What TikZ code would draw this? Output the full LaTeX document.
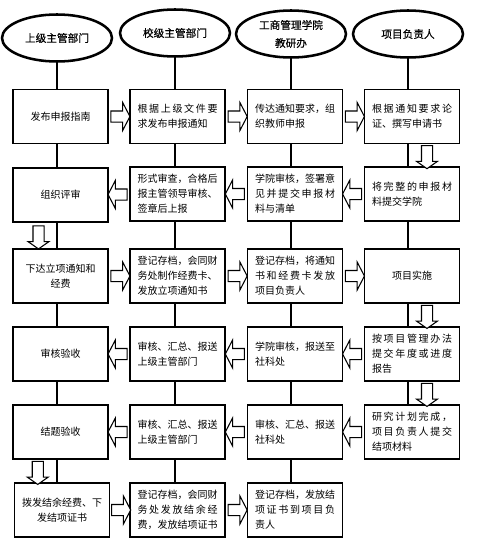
\documentclass[tikz,border=0pt]{standalone}
\usepackage{fontspec}
\setmainfont{Noto Sans CJK SC}
\newfontfamily\headfont[FakeBold=0.5]{Noto Sans CJK SC}
\usetikzlibrary{shapes.geometric,shapes.arrows,calc,backgrounds}
\newcommand\spr[1]{\makebox[60pt][s]{\sprA#1\relax}}
\def\sprA#1{#1\sprB}
\def\sprB#1{\ifx\relax#1\else\hfil#1\expandafter\sprB\fi}
\tikzset{
  x=0.75pt, y=-0.75pt,
  head/.style={ellipse, draw, line width=1.9pt, fill=white, minimum width=82.5pt,
    minimum height=35.25pt, inner sep=0pt, align=center,
    font=\headfont\fontsize{8pt}{13.5pt}\selectfont},
  box/.style={rectangle, draw, line width=0.8pt, fill=white, minimum width=71.25pt,
    minimum height=40.5pt, inner sep=0pt, align=left,
    font=\fontsize{7.5pt}{11.25pt}\selectfont},
  cbox/.style={box, align=center},
  lane/.style={line width=1.5pt},
  harrow/.style={single arrow, draw, fill=white, line width=0.8pt, minimum height=14.25pt,
    inner sep=3.75pt, single arrow head extend=6.4pt, single arrow tip angle=125},
  rarr/.style={harrow},
  larr/.style={harrow, shape border rotate=180},
  darr/.style={single arrow, draw, fill=white, line width=0.8pt, minimum height=17.25pt,
    inner sep=3.75pt, single arrow head extend=3.75pt, single arrow tip angle=110,
    shape border rotate=270},
}
\begin{document}
\begin{tikzpicture}
\useasboundingbox (0,0) rectangle (482,546);
% headers
\node[head] (e1) at (57,38) {上级主管部门};
\node[head] (e2) at (175,33) {校级主管部门};
\node[head] (e3) at (291,34) {工商管理学院\\教研办};
\node[head] (e4) at (408,34) {项目负责人};
% row 1
\node[cbox] (b11) at (60.5,116.5) {发布申报指南};
\node[box] (b12) at (177.5,116.5) {\spr{根据上级文件要}\\求发布申报通知};
\node[box] (b13) at (295,116.5) {\spr{传达通知要求，组}\\织教师申报};
\node[box] (b14) at (412,116.5) {\spr{根据通知要求论}\\证、撰写申请书};
% row 2
\node[cbox] (b21) at (60.5,195) {组织评审};
\node[box] (b22) at (177.5,194) {\spr{形式审查，合格后}\\\spr{报主管领导审核、}\\签章后上报};
\node[box] (b23) at (295,194) {\spr{学院审核，签署意}\\\spr{见并提交申报材}\\料与清单};
\node[box] (b24) at (412,194) {\spr{将完整的申报材}\\料提交学院};
% row 3
\node[cbox] (b31) at (60.5,276) {下达立项通知和\\经费};
\node[box] (b32) at (177.5,276) {\spr{登记存档，会同财}\\\spr{务处制作经费卡、}\\发放立项通知书};
\node[box] (b33) at (295,276) {\spr{登记存档，将通知}\\\spr{书和经费卡发放}\\项目负责人};
\node[cbox] (b34) at (412,276) {项目实施};
% row 4
\node[cbox] (b41) at (60.5,354) {审核验收};
\node[box] (b42) at (177.5,354) {\spr{审核、汇总、报送}\\上级主管部门};
\node[box] (b43) at (295,354) {\spr{学院审核，报送至}\\社科处};
\node[box] (b44) at (412,354) {\spr{按项目管理办法}\\\spr{提交年度或进度}\\报告};
% row 5
\node[cbox] (b51) at (60.5,432) {结题验收};
\node[box] (b52) at (177.5,432) {\spr{审核、汇总、报送}\\上级主管部门};
\node[box] (b53) at (295,432) {\spr{审核、汇总、报送}\\社科处};
\node[box] (b54) at (412,432) {\spr{研究计划完成，}\\\spr{项目负责人提交}\\结项材料};
% row 6
\node[cbox] (b61) at (62,510) {拨发结余经费、下\\发结项证书};
\node[box] (b62) at (177.5,510) {\spr{登记存档，会同财}\\\spr{务处发放结余经}\\费，发放结项证书};
\node[box] (b63) at (295,510) {\spr{登记存档，发放结}\\\spr{项证书到项目负}\\责人};
% lanes
\begin{scope}[on background layer]
\draw[lane] (e1.south) -- (e1.south |- b61.north);
\draw[lane] (e2.south) -- (e2.south |- b62.north);
\draw[lane] (e3.south) -- (e3.south |- b63.north);
\draw[lane] (e4.south) -- (e4.south |- b54.north);
\end{scope}
% horizontal arrows
\node[rarr] (a11) at ($(b11.east)!0.5!(b12.west)$) {};
\node[rarr] (a12) at ($(b12.east)!0.5!(b13.west)$) {};
\node[rarr] (a13) at ($(b13.east)!0.5!(b14.west)$) {};
\node[larr] (a21) at ($(b21.east)!0.5!(b22.west)$) {};
\node[larr] (a22) at ($(b22.east)!0.5!(b23.west)$) {};
\node[larr] (a23) at ($(b23.east)!0.5!(b24.west)$) {};
\node[rarr] (a31) at ($(b31.east)!0.5!(b32.west)$) {};
\node[rarr] (a32) at ($(b32.east)!0.5!(b33.west)$) {};
\node[rarr] (a33) at ($(b33.east)!0.5!(b34.west)$) {};
\node[larr] (a41) at ($(b41.east)!0.5!(b42.west)$) {};
\node[larr] (a42) at ($(b42.east)!0.5!(b43.west)$) {};
\node[larr] (a43) at ($(b43.east)!0.5!(b44.west)$) {};
\node[larr] (a51) at ($(b51.east)!0.5!(b52.west)$) {};
\node[larr] (a52) at ($(b52.east)!0.5!(b53.west)$) {};
\node[larr] (a53) at ($(b53.east)!0.5!(b54.west)$) {};
\node[rarr] (a61) at ($(b61.east)!0.5!(b62.west)$) {};
\node[rarr] (a62) at ($(b62.east)!0.5!(b63.west)$) {};
% vertical arrows
\node[darr] (d1) at ($(b14.south)!0.5!(b24.north)+(15,0)$) {};
\node[darr] (d2) at ($(b21.south)!0.5!(b31.north)+(-22,0)$) {};
\node[darr] (d3) at ($(b34.south)!0.5!(b44.north)+(15,0)$) {};
\node[darr] (d4) at ($(b44.south)!0.5!(b54.north)+(15,0)$) {};
\node[darr] (d5) at ($(b51.south)!0.5!(b61.north)+(-23.5,0)$) {};
\end{tikzpicture}
\end{document}
